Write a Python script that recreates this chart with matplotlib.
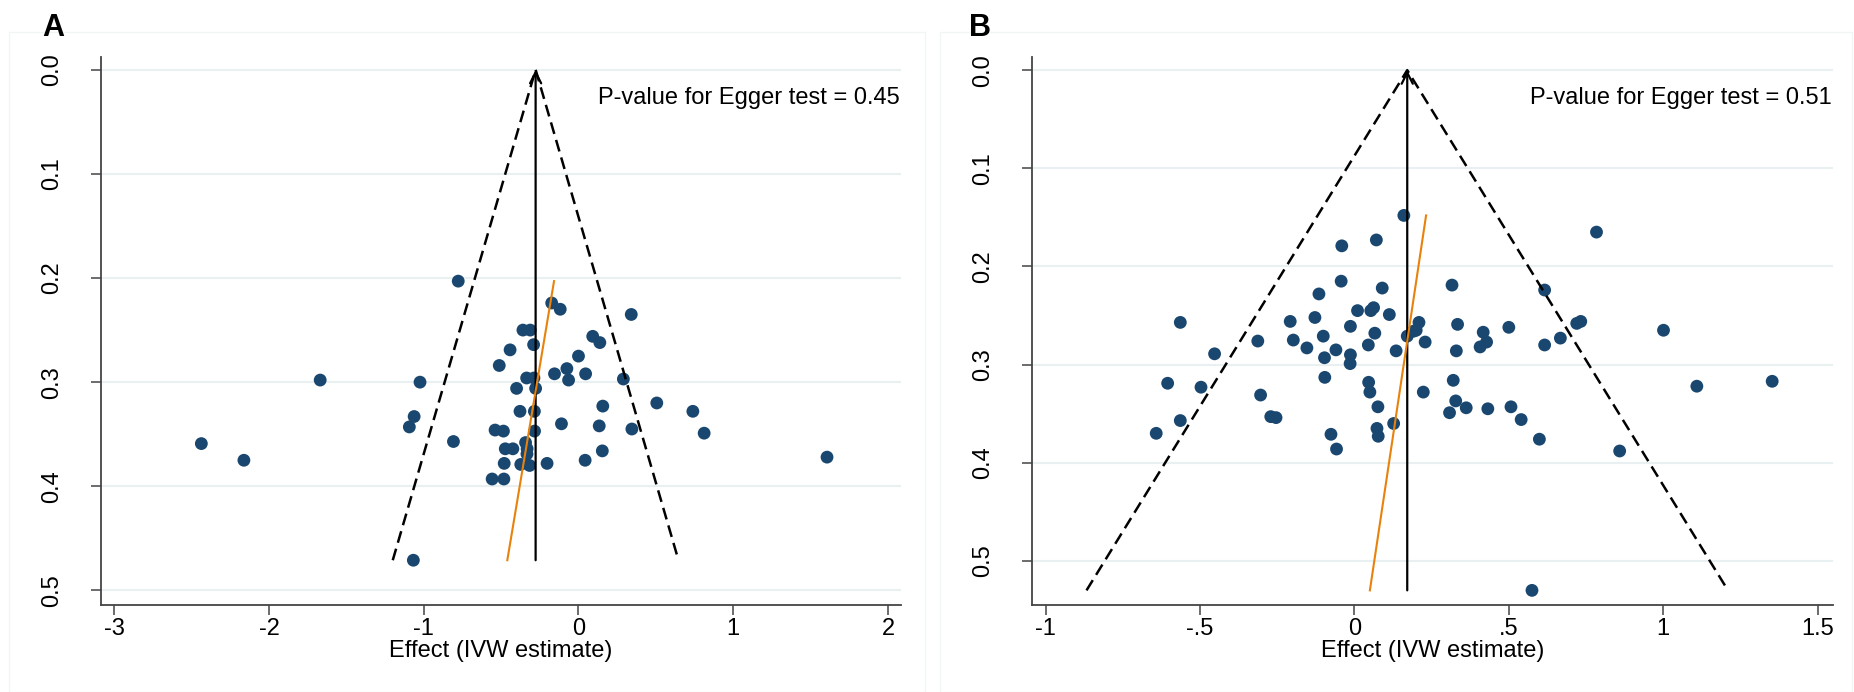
import numpy as np
import matplotlib
matplotlib.use("Agg")
import matplotlib.pyplot as plt
from matplotlib.patches import Rectangle

plt.rcParams['font.family'] = ['Liberation Sans', 'DejaVu Sans']
plt.rcParams['axes.unicode_minus'] = False

# ---- Panel A data (effect, standard error) ----
eff_a = [-0.777, -0.173, -0.118, 0.341, -0.359, -0.312, 0.092, 0.138, -0.290, -0.442,
         0.000, -0.512, -0.155, -0.075, 0.046, -0.064, -0.335, -0.288, 0.290, -1.669,
         -1.024, -0.400, -0.277, 0.157, 0.506, 0.739, -0.378, -0.285, -1.062, -0.110,
         -1.093, 0.134, -0.539, -0.485, -0.284, 0.345, 0.812, -0.808, -2.437, -0.342,
         -0.473, -0.424, -0.332, -0.333, 0.154, -2.162, -0.480, -0.373, -0.316, -0.203,
         0.043, 1.606, -0.558, -0.482, -1.067]
se_a = [0.203, 0.224, 0.230, 0.235, 0.250, 0.250, 0.256, 0.262, 0.264, 0.269,
        0.275, 0.284, 0.292, 0.287, 0.292, 0.298, 0.296, 0.296, 0.297, 0.298,
        0.300, 0.306, 0.306, 0.323, 0.320, 0.328, 0.328, 0.328, 0.333, 0.340,
        0.343, 0.342, 0.346, 0.347, 0.347, 0.345, 0.349, 0.357, 0.359, 0.358,
        0.364, 0.364, 0.364, 0.369, 0.366, 0.375, 0.378, 0.379, 0.380, 0.378,
        0.375, 0.372, 0.393, 0.393, 0.471]
ivw_a = -0.277
egger_a = [-0.158, -0.460]   # Egger line effect at min / max SE
pval_a = "0.45"
xticks_a = [-3, -2, -1, 0, 1, 2]
xlabels_a = ["-3", "-2", "-1", "0", "1", "2"]

# ---- Panel B data ----
eff_b = [0.160, 0.784, 0.071, -0.041, -0.043, 0.316, 0.090, 0.616, -0.115, 0.010,
         0.053, 0.062, 0.113, -0.128, -0.208, -0.564, 0.209, -0.013, 0.334, 0.500,
         0.733, 0.720, 1.001, 0.417, 0.066, 0.191, 0.200, 0.171, -0.101, 0.667,
         -0.313, -0.198, 0.229, 0.428, 0.045, 0.407, 0.616, -0.154, -0.060, 0.135,
         0.330, -0.453, -0.013, -0.097, -0.014, -0.096, 0.320, 0.046, 1.353, -0.605,
         1.109, -0.497, 0.050, 0.223, -0.304, 0.328, 0.076, 0.362, 0.432, 0.507,
         0.308, -0.271, -0.254, -0.564, 0.540, 0.127, 0.073, -0.642, -0.076, 0.077,
         0.599, -0.058, 0.859, 0.575]
se_b = [0.148, 0.165, 0.173, 0.179, 0.215, 0.219, 0.222, 0.224, 0.228, 0.245,
        0.245, 0.242, 0.249, 0.252, 0.256, 0.257, 0.257, 0.261, 0.259, 0.262,
        0.256, 0.258, 0.265, 0.267, 0.268, 0.266, 0.265, 0.271, 0.271, 0.273,
        0.276, 0.275, 0.277, 0.277, 0.280, 0.282, 0.280, 0.283, 0.285, 0.286,
        0.286, 0.289, 0.290, 0.293, 0.299, 0.313, 0.316, 0.318, 0.317, 0.319,
        0.322, 0.323, 0.328, 0.328, 0.331, 0.337, 0.343, 0.344, 0.345, 0.343,
        0.349, 0.353, 0.354, 0.357, 0.356, 0.360, 0.365, 0.370, 0.371, 0.373,
        0.376, 0.386, 0.388, 0.530]
ivw_b = 0.171
egger_b = [0.232, 0.050]
pval_b = "0.51"
xticks_b = [-1, -0.5, 0, 0.5, 1, 1.5]
xlabels_b = ["-1", "-.5", "0", ".5", "1", "1.5"]

yticks = [0.0, 0.1, 0.2, 0.3, 0.4, 0.5]

NAVY = '#1a476f'
ORANGE = '#e8820c'
GRID = '#e9f0f2'
SPINE = '#444444'
FS = 17

W, H = 1854, 692
fig = plt.figure(figsize=(W / 100, H / 100), dpi=100)


def px_axes(left, top, right, bottom):
    """Add axes using pixel coordinates measured from the top-left"""
    return fig.add_axes([left / W, 1 - bottom / H, (right - left) / W, (bottom - top) / H])


def funnel(ax, eff, se, ivw, egger, pval, xlim, ylim, xticks, xlabels):
    eff = np.asarray(eff)
    se = np.asarray(se)
    se_max = se.max()
    se_min = se.min()

    for y in yticks:
        ax.axhline(y, color=GRID, lw=1.5, zorder=0)

    ax.scatter(eff, se, s=85, color=NAVY, edgecolors='none', zorder=2)

    # funnel limits: ivw +/- 1.96*se
    ax.plot([ivw - 1.96 * se_max, ivw, ivw + 1.96 * se_max], [se_max, 0, se_max],
            color='black', lw=1.8, dashes=(4.8, 2.5), zorder=3)
    # ivw estimate with arrow on top
    ax.annotate('', xy=(ivw, 0), xytext=(ivw, se_max),
                arrowprops=dict(arrowstyle='->', color='black', lw=1.6,
                                shrinkA=0, shrinkB=0, mutation_scale=20), zorder=3)
    # egger regression line
    ax.plot(egger, [se_min, se_max], color=ORANGE, lw=1.5, zorder=3)

    ax.text(0.999, 0.924, "P-value for Egger test = " + pval, transform=ax.transAxes,
            ha='right', va='center', fontsize=FS)

    ax.set_xlim(*xlim)
    ax.set_ylim(*ylim)
    ax.set_xticks(xticks)
    ax.set_xticklabels(xlabels)
    ax.set_yticks(yticks)
    ax.set_yticklabels(["%.1f" % t for t in yticks], rotation=90, va='center')
    ax.tick_params(axis='both', labelsize=FS, length=7, width=1.1, color=SPINE)
    ax.tick_params(axis='x', pad=3)
    ax.tick_params(axis='y', pad=20)
    ax.set_xlabel("Effect (IVW estimate)", fontsize=FS, labelpad=0)

    for s in ['top', 'right']:
        ax.spines[s].set_visible(False)
    for s in ['left', 'bottom']:
        ax.spines[s].set_color(SPINE)
        ax.spines[s].set_linewidth(1.3)


# faint panel frames
for x0, x1 in [(9, 925), (940, 1852)]:
    fig.patches.append(Rectangle((x0 / W, 0), (x1 - x0) / W, 1 - 32 / H,
                                 transform=fig.transFigure, fill=False,
                                 edgecolor='#f1f5f6', lw=1.0))

ax_a = px_axes(100.6, 56.5, 901, 604.6)
funnel(ax_a, eff_a, se_a, ivw_a, egger_a, pval_a, (-3.088, 2.084), (0.5136, -0.0127),
       xticks_a, xlabels_a)

ax_b = px_axes(1031.8, 56.5, 1832.7, 604.6)
funnel(ax_b, eff_b, se_b, ivw_b, egger_b, pval_b, (-1.045, 1.549), (0.5445, -0.0139),
       xticks_b, xlabels_b)

fig.text(42 / W, 1 - 36 / H, "A", fontsize=22, fontweight='bold', va='baseline')
fig.text(969 / W, 1 - 36 / H, "B", fontsize=22, fontweight='bold', va='baseline')

fig.savefig("out.png", dpi=100, facecolor='white')
